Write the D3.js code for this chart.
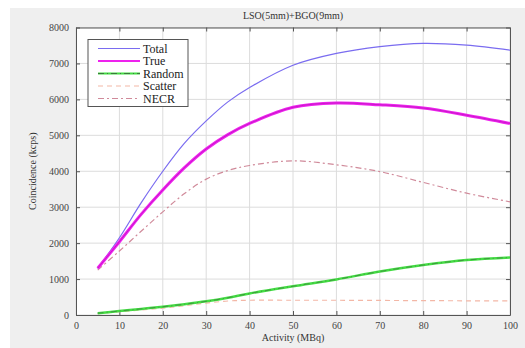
<!DOCTYPE html>
<html>
<head>
<meta charset="utf-8">
<script src="https://cdn.jsdelivr.net/npm/d3@7"></script>
<style>
  html, body { margin: 0; background: #fff; overflow: hidden; }
  svg { display: block; }
  svg text { font-family: "Liberation Serif", "DejaVu Serif", serif; }
</style>
</head>
<body>
<svg id="chart"></svg>
<script>
// activity (MBq)
const activity = [5, 10, 15, 20, 25, 30, 35, 40, 50, 60, 70, 80, 90, 100];
// count rates (kcps)
const total   = [1300, 2150, 3120, 4000, 4780, 5400, 5930, 6330, 6950, 7280, 7470, 7560, 7510, 7370];
const trues   = [1300, 2040, 2800, 3480, 4100, 4620, 5020, 5330, 5780, 5900, 5850, 5760, 5560, 5330];
const randoms = [50, 110, 170, 230, 300, 380, 480, 600, 800, 990, 1210, 1390, 1530, 1600];
const scatter = [40, 90, 140, 190, 260, 330, 390, 410, 410, 410, 405, 400, 395, 390];
const necr    = [1250, 1780, 2330, 2870, 3380, 3780, 4020, 4160, 4290, 4180, 3990, 3690, 3390, 3150];

const xTicks = d3.range(0, 101, 10);
const yTicks = d3.range(0, 8001, 1000);

const width = 525, height = 348;
const margin = { top: 27.5, right: 15, bottom: 33, left: 76 };
const innerWidth = width - margin.left - margin.right;
const innerHeight = height - margin.top - margin.bottom;

const svg = d3.select("#chart").attr("width", width).attr("height", height);

// figure background
svg.append("rect").attr("x", 10).attr("y", 8)
  .attr("width", width - 10).attr("height", height - 8).attr("fill", "#efefef");

const xScale = d3.scaleLinear().domain([0, 100]).range([0, innerWidth]);
const yScale = d3.scaleLinear().domain([0, 8000]).range([innerHeight, 0]);

const g = svg.append("g").attr("transform", `translate(${margin.left},${margin.top})`);

g.append("rect").attr("width", innerWidth).attr("height", innerHeight).attr("fill", "#fff");

// grid
g.append("g").selectAll("line").data(xTicks).join("line")
  .attr("x1", d => xScale(d)).attr("x2", d => xScale(d))
  .attr("y1", 0).attr("y2", innerHeight).attr("stroke", "#dcdcdc");
g.append("g").selectAll("line").data(yTicks).join("line")
  .attr("y1", d => yScale(d)).attr("y2", d => yScale(d))
  .attr("x1", 0).attr("x2", innerWidth).attr("stroke", "#dcdcdc");

// axes with inward ticks
const xAxisG = g.append("g").attr("transform", `translate(0,${innerHeight})`)
  .call(d3.axisBottom(xScale).tickValues(xTicks).tickSizeInner(-4).tickSizeOuter(0).tickPadding(7));
const yAxisG = g.append("g")
  .call(d3.axisLeft(yScale).tickValues(yTicks).tickFormat(d3.format("d"))
    .tickSizeInner(-4).tickSizeOuter(0).tickPadding(7));
g.append("g").call(d3.axisTop(xScale).tickValues(xTicks).tickSizeInner(-4).tickSizeOuter(0).tickFormat(""))
  .selectAll("text").remove();
g.append("g").attr("transform", `translate(${innerWidth},0)`)
  .call(d3.axisRight(yScale).tickValues(yTicks).tickSizeInner(-4).tickSizeOuter(0).tickFormat(""))
  .selectAll("text").remove();

g.selectAll(".domain").attr("stroke", "#555");
g.selectAll(".tick line").attr("stroke", "#555");
xAxisG.selectAll("text").attr("font-size", 10).attr("fill", "#444");
yAxisG.selectAll("text").attr("font-size", 10).attr("fill", "#444");

// lines
const series = [
  { name: "Total", values: total, color: "#7a6cf0", width: 1.2, dash: null },
  { name: "True", values: trues, color: "#ee22ee", width: 3, dash: null },
  { name: "Random", values: randoms, color: "#44dd44", width: 2.5, dash: null, overlay: "#3a7a3a" },
  { name: "Scatter", values: scatter, color: "#f3b7a6", width: 1.2, dash: "5,4" },
  { name: "NECR", values: necr, color: "#d08a9a", width: 1.2, dash: "6,3,2,3" }
];

const line = d3.line()
  .x((d, i) => xScale(activity[i]))
  .y(d => yScale(d))
  .curve(d3.curveCatmullRom.alpha(0.5));

// draw order: scatter, necr, random, total, true
[3, 4, 2, 0, 1].forEach(k => {
  const s = series[k];
  g.append("path").datum(s.values).attr("d", line)
    .attr("fill", "none").attr("stroke", s.color)
    .attr("stroke-width", s.width)
    .attr("stroke-dasharray", s.dash);
  if (s.overlay) {
    g.append("path").datum(s.values).attr("d", line)
      .attr("fill", "none").attr("stroke", s.overlay)
      .attr("stroke-width", 1).attr("stroke-dasharray", "6,3,1,3").attr("opacity", 0.7);
  }
  if (k === 1) {
    g.append("path").datum(s.values).attr("d", line)
      .attr("fill", "none").attr("stroke", "#b010b0")
      .attr("stroke-width", 1).attr("opacity", 0.6);
  }
});

// title and labels
g.append("text").attr("x", innerWidth / 2).attr("y", -9)
  .attr("text-anchor", "middle").attr("font-size", 10).attr("fill", "#333")
  .text("LSO(5mm)+BGO(9mm)");
xAxisG.append("text").attr("x", innerWidth / 2).attr("y", 26)
  .attr("text-anchor", "middle").attr("font-size", 10).attr("fill", "#333")
  .text("Activity (MBq)");
svg.append("text")
  .attr("transform", `translate(36,${margin.top + innerHeight / 2}) rotate(-90)`)
  .attr("text-anchor", "middle").attr("font-size", 10).attr("fill", "#333")
  .text("Coincidence (kcps)");

// legend
const lg = g.append("g").attr("transform", "translate(12,12)");
lg.append("rect").attr("width", 100).attr("height", 67)
  .attr("fill", "#fff").attr("stroke", "#555").attr("stroke-width", 1);
series.forEach((s, i) => {
  const y = 9 + i * 12.5;
  lg.append("line").attr("x1", 10).attr("x2", 52).attr("y1", y).attr("y2", y)
    .attr("stroke", s.color).attr("stroke-width", Math.min(s.width, 2))
    .attr("stroke-dasharray", s.dash);
  if (s.overlay) {
    lg.append("line").attr("x1", 10).attr("x2", 52).attr("y1", y).attr("y2", y)
      .attr("stroke", s.overlay).attr("stroke-width", 1).attr("stroke-dasharray", "6,3,1,3");
  }
  lg.append("text").attr("x", 55).attr("y", y + 4).attr("font-size", 12)
    .attr("fill", "#222").text(s.name);
});
</script>
</body>
</html>
